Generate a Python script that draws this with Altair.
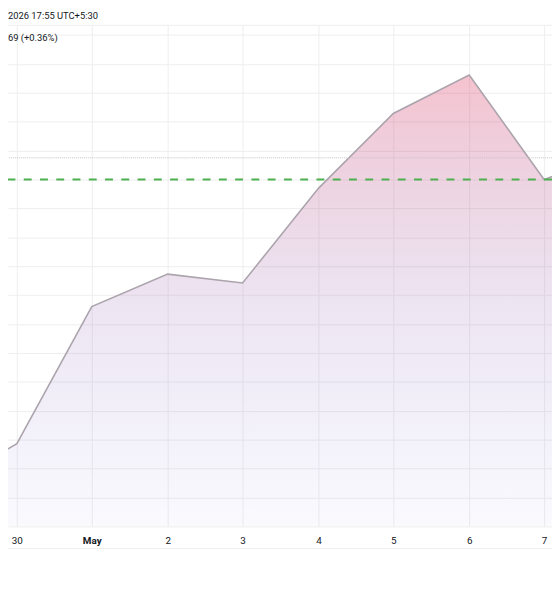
import altair as alt
import pandas as pd

# ---- data ----
day_pos = [0, 1, 2, 3, 4, 5, 6, 7, 8, 9]
prices = [1202.66, 1205.73, 1215.21, 1217.46, 1216.84, 1223.39, 1228.57, 1231.23, 1224.00, 1225.91]
tick_pos = [1, 2, 3, 4, 5, 6, 7, 8]
tick_labels = ["30", "May", "2", "3", "4", "5", "6", "7"]
grid_values = [1200, 1202, 1204, 1206, 1208, 1210, 1212, 1214, 1216, 1218,
               1220, 1222, 1224, 1226, 1228, 1230, 1232, 1234]
last_price = [1224.00]
prev_close = [1225.50]
header_time = "2026 17:55 UTC+5:30"
header_change = "69 (+0.36%)"

W, H = 552, 509
x_domain = [0.8822, 8.1047]
y_domain = [1200.0, 1234.71]
area_floor = 1200.0

df = pd.DataFrame({"t": day_pos, "price": prices})
df["floor"] = area_floor

label_map = "{" + ",".join(f"'{p}':'{l}'" for p, l in zip(tick_pos, tick_labels)) + "}"

xs = alt.Scale(domain=x_domain, nice=False, zero=False, round=True)
ys = alt.Scale(domain=y_domain, nice=False, zero=False, round=True)

x_axis = alt.Axis(
    values=tick_pos,
    labelExpr=f"{label_map}[''+datum.value]",
    grid=True, gridColor="#eeeeee", gridWidth=1,
    domain=False, ticks=False, tickSize=0,
    labelPadding=9, labelFont="Roboto", labelFontSize=10,
    labelColor="#131722",
    labelFontWeight=alt.condition("datum.value == 2", alt.value("bold"), alt.value("normal")),
    title=None,
)
y_axis = alt.Axis(
    values=grid_values, grid=True, gridColor="#eeeeee", gridWidth=1,
    labels=False, ticks=False, tickSize=0, domain=False, title=None,
)

grad = alt.Gradient(
    gradient="linear",
    stops=[
        alt.GradientStop(color="rgba(222,55,95,0.30)", offset=0),
        alt.GradientStop(color="rgba(135,75,162,0.15)", offset=0.5),
        alt.GradientStop(color="rgba(88,88,222,0.03)", offset=1),
    ],
    x1=0, x2=0, y1=0, y2=1,
)

base = alt.Chart(df)

area = base.mark_area(clip=True, color=grad).encode(
    x=alt.X("t:Q", scale=xs, axis=x_axis),
    y=alt.Y("price:Q", scale=ys, axis=y_axis),
    y2="floor:Q",
)

line = base.mark_line(clip=True, color="#aca4ac", strokeWidth=1.6).encode(
    x=alt.X("t:Q", scale=xs, axis=x_axis),
    y=alt.Y("price:Q", scale=ys, axis=y_axis),
)

prev_rule = alt.Chart(pd.DataFrame({"v": prev_close})).mark_rule(
    color="#c4c4c4", strokeDash=[1, 1], strokeWidth=1
).encode(y=alt.Y("v:Q", scale=ys, axis=y_axis))

last_rule = alt.Chart(pd.DataFrame({"v": last_price})).mark_rule(
    color="#4caf50", strokeDash=[8, 8.5], strokeWidth=2
).encode(y=alt.Y("v:Q", scale=ys, axis=y_axis))

top_border = alt.Chart(pd.DataFrame({"a": [0]})).mark_rule(
    color="#eeeeee", strokeWidth=1
).encode(y=alt.value(0.5), x=alt.value(0), x2=alt.value(W))

bottom_border = alt.Chart(pd.DataFrame({"a": [0]})).mark_rule(
    color="#eeeeee", strokeWidth=1
).encode(y=alt.value(531.5), x=alt.value(0), x2=alt.value(W))

txt1 = alt.Chart(pd.DataFrame({"s": [header_time]})).mark_text(
    align="left", baseline="middle", font="Roboto", fontSize=9.5, color="#131722"
).encode(text="s:N", x=alt.value(0), y=alt.value(-9))

txt2 = alt.Chart(pd.DataFrame({"s": [header_change]})).mark_text(
    align="left", baseline="middle", font="Roboto", fontSize=9.5, color="#131722"
).encode(text="s:N", x=alt.value(0), y=alt.value(13))

chart = alt.layer(
    area, line, prev_rule, last_rule, top_border, bottom_border, txt1, txt2
).properties(
    width=W, height=H,
    autosize=alt.AutoSizeParams(type="none"),
    padding={"left": 0, "top": 13, "right": 0, "bottom": 26},
).configure_view(stroke=None)

chart.save("out.html", embed_options={"renderer": "svg", "actions": False})
